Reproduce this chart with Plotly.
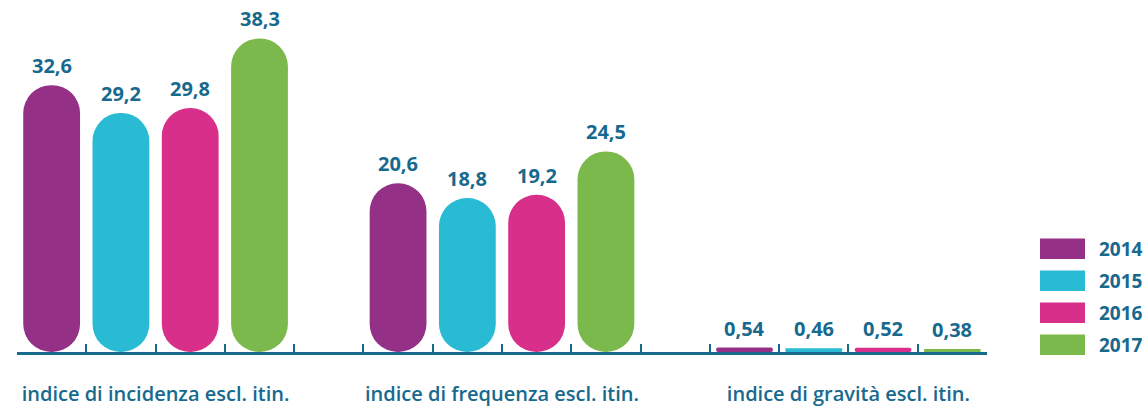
import plotly.graph_objects as go

# ---------------- data ----------------
categories = [
    "indice di incidenza escl. itin.",
    "indice di frequenza escl. itin.",
    "indice di gravità escl. itin.",
]
years = ["2014", "2015", "2016", "2017"]
v2014 = [32.6, 20.6, 0.54]
v2015 = [29.2, 18.8, 0.46]
v2016 = [29.8, 19.2, 0.52]
v2017 = [38.3, 24.5, 0.38]
colors = ["#943186", "#2abbd4", "#d8308a", "#7cb94c"]

# ---------------- layout constants ----------------
W, H = 1144, 407
ML, MR, MT, MB = 17, 157, 0, 47
plot_w = W - ML - MR
plot_h = H - MT - MB
Y_MAX = 43.0
TEXT_COLOR = "#17698e"
FONT = "Open Sans"

slots_per_group = len(years) + 1
n_slots = slots_per_group * len(categories) - 1
BAR_W = 0.82
px_per_unit = plot_h / Y_MAX
px_per_slot = plot_w / n_slots
r_max = BAR_W * px_per_slot / 2

fig = go.Figure()
series = [v2014, v2015, v2016, v2017]

for yi, (yr, vals, col) in enumerate(zip(years, series, colors)):
    for gi, v in enumerate(vals):
        x = gi * slots_per_group + yi + 0.5
        r = min(r_max, v * px_per_unit / 2)
        # explicit base -> plotly rounds both ends (pill shape)
        fig.add_trace(go.Bar(
            x=[x], y=[v], base=[0], width=BAR_W,
            marker=dict(color=col, cornerradius=r, line_width=0),
            showlegend=False, hoverinfo="skip",
        ))
        fig.add_annotation(
            x=x, y=v, text=f"{v}".replace(".", ","), showarrow=False,
            yanchor="bottom", yshift=4,
            font=dict(family=FONT, size=20, color=TEXT_COLOR, weight=700),
        )

# x ticks at every slot boundary, labels centred under each group
tickvals = list(range(n_slots + 1))
ticktext = [""] * len(tickvals)
for gi, cat in enumerate(categories):
    ticktext[gi * slots_per_group + len(years) // 2] = cat

fig.update_xaxes(
    range=[0, n_slots], tickmode="array", tickvals=tickvals, ticktext=ticktext,
    ticks="inside", ticklen=8, tickwidth=2, tickcolor=TEXT_COLOR,
    showline=True, linewidth=3, linecolor=TEXT_COLOR,
    showgrid=False, zeroline=False, ticklabelstandoff=22,
    tickfont=dict(family=FONT, size=20, color=TEXT_COLOR, weight=600),
)
fig.update_yaxes(range=[0, Y_MAX], visible=False)

# legend drawn as wide swatches
def px_x(px):
    return (px - ML) / plot_w

def px_y(py):
    return 1 - (py - MT) / plot_h

LEG_X0, LEG_X1, LEG_Y0, LEG_H, LEG_STEP, LEG_TX = 1040, 1085, 244, 21, 32.7, 1097
for i, (yr, col) in enumerate(zip(years, colors)):
    top = LEG_Y0 + i * LEG_STEP
    fig.add_shape(type="rect", xref="paper", yref="paper",
                  x0=px_x(LEG_X0), x1=px_x(LEG_X1), y0=px_y(top + LEG_H), y1=px_y(top),
                  fillcolor=col, line_width=0)
    fig.add_annotation(xref="paper", yref="paper", x=px_x(LEG_TX), y=px_y(top + LEG_H / 2),
                       text=yr, showarrow=False, xanchor="left", yanchor="middle",
                       font=dict(family=FONT, size=19, color=TEXT_COLOR, weight=700))

fig.update_layout(
    width=W, height=H, barmode="overlay", showlegend=False,
    margin=dict(l=ML, r=MR, t=MT, b=MB),
    plot_bgcolor="white", paper_bgcolor="white",
)

fig.write_html("out.html")
